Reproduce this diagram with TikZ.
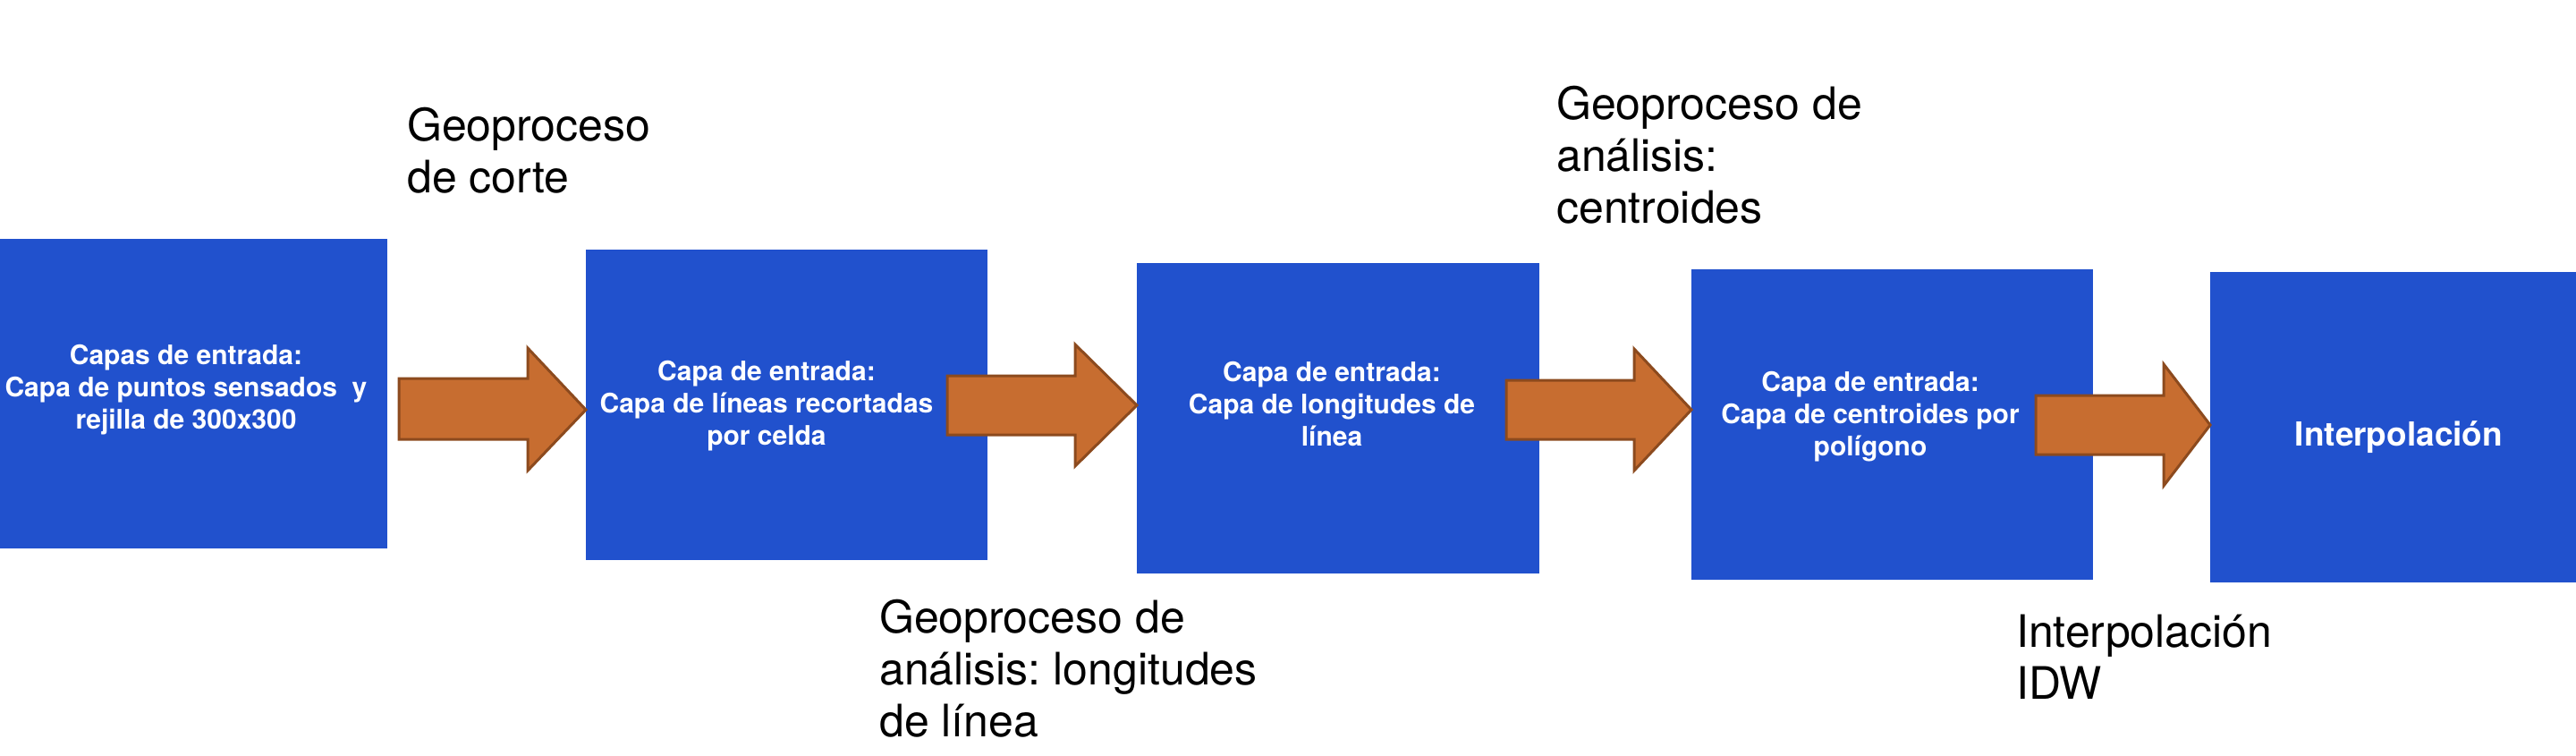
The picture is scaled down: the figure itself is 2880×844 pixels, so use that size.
\documentclass[tikz,border=0pt]{standalone}
\usepackage{fontspec}
\setmainfont{TeX Gyre Heros}
\frenchspacing
\definecolor{boxblue}{HTML}{2151CD}
\definecolor{arrfill}{HTML}{C76D30}
\definecolor{arrline}{HTML}{8C4A1E}
\newcommand{\clines}[1]{\vtop{\halign{\hfil##\hfil\cr#1\crcr}}}
\newcommand{\llines}[1]{\vtop{\halign{##\hfil\cr#1\crcr}}}
\begin{document}
\begin{tikzpicture}[x=1pt,y=-1pt,
  box/.style={fill=boxblue, draw=none, inner sep=0pt, outer sep=0pt, anchor=north west},
  boxtext/.style={text=white, font=\bfseries\fontsize{30}{36}\selectfont, inner sep=0pt, anchor=base},
  bigtext/.style={text=white, font=\bfseries\fontsize{37}{44}\selectfont, inner sep=0pt, anchor=base},
  lbl/.style={text=black, font=\fontsize{50}{58}\selectfont, inner sep=0pt, anchor=base west},
  blockarrow/.style={fill=arrfill, draw=arrline, line width=3pt, line join=miter}]
\fill[white] (0,0) rectangle (2880,844);
\useasboundingbox (0,0) rectangle (2880,844);
% boxes
\node[box, minimum width=433pt, minimum height=346pt] (b1) at (0,267) {};
\node[box, minimum width=449pt, minimum height=347pt] (b2) at (655,279) {};
\node[box, minimum width=450pt, minimum height=347pt] (b3) at (1271,294) {};
\node[box, minimum width=449pt, minimum height=347pt] (b4) at (1891,301) {};
\node[box, minimum width=449pt, minimum height=347pt] (b5) at (2471,304) {};
% block arrows
\draw[blockarrow] (446,423) -- (590,423) -- (590,389) -- (b2.west |- 0,458) -- (590,526) -- (590,491) -- (446,491) -- cycle;
\draw[blockarrow] (1059,420) -- (1202,420) -- (1202,385) -- (b3.west |- 0,453) -- (1202,521) -- (1202,486) -- (1059,486) -- cycle;
\draw[blockarrow] (1684,425) -- (1827,425) -- (1827,390) -- (b4.west |- 0,458) -- (1827,526) -- (1827,491) -- (1684,491) -- cycle;
\draw[blockarrow] (2276,442) -- (2419,442) -- (2419,407) -- (b5.west |- 0,475) -- (2419,543) -- (2419,508) -- (2276,508) -- cycle;
% box texts
\node[boxtext] (t1) at (208,407) {\clines{Capas de entrada:\cr Capa de puntos sensados \ y\cr rejilla de 300x300}};
\node[boxtext] (t2) at (857,425) {\clines{Capa de entrada:\cr Capa de líneas recortadas\cr por celda}};
\node[boxtext] (t3) at (1489,426) {\clines{Capa de entrada:\cr Capa de longitudes de\cr línea}};
\node[boxtext] (t4) at (2091,437) {\clines{Capa de entrada:\cr Capa de centroides por\cr polígono}};
\node[bigtext] (t5) at (2682,498) {Interpolación};
% labels
\node[lbl] (g1) at (455,157) {\llines{Geoproceso\cr de corte}};
\node[lbl] (g2) at (983,707) {\llines{Geoproceso de\cr análisis: longitudes\cr de línea}};
\node[lbl] (g3) at (1740,133) {\llines{Geoproceso de\cr análisis:\cr centroides}};
\node[lbl] (g4) at (2254,723) {\llines{Interpolación\cr IDW}};
\end{tikzpicture}
\end{document}
